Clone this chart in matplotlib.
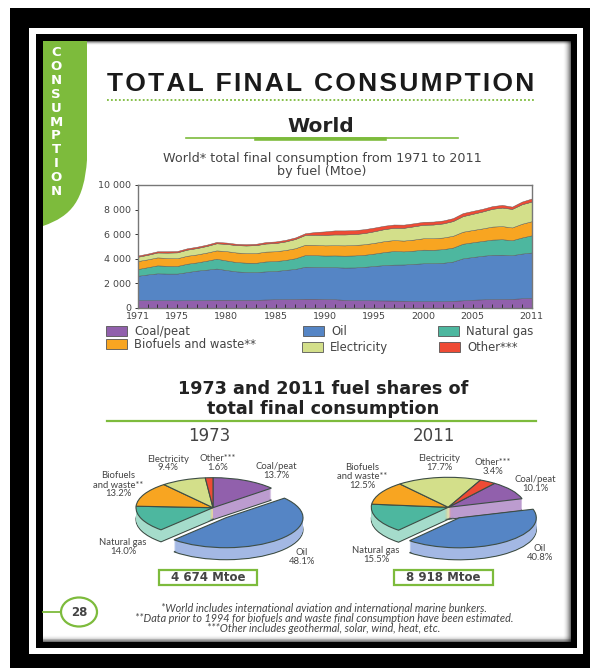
# Total final consumption page - area chart and two fake 3d pies
import numpy as np
import matplotlib
matplotlib.use('Agg')
import matplotlib.pyplot as plt
from matplotlib.patches import Rectangle, PathPatch, Ellipse
from matplotlib.path import Path

W, H = 590, 668

# area chart data (Mtoe)
years = list(range(1971, 2012))
coal = [620, 620, 620, 610, 600, 610, 620, 630, 650, 650, 640, 640, 640, 670, 690, 700, 710, 730, 730, 710,
        690, 640, 610, 610, 600, 590, 580, 570, 540, 530, 530, 530, 560, 600, 650, 680, 700, 710, 720, 770, 800]
oil = [1980, 2090, 2180, 2170, 2180, 2290, 2400, 2470, 2540, 2420, 2320, 2270, 2260, 2290, 2300, 2380, 2450, 2610, 2590, 2600,
       2610, 2630, 2670, 2720, 2800, 2880, 2930, 2950, 3030, 3090, 3100, 3130, 3200, 3420, 3480, 3550, 3610, 3610, 3560, 3640, 3700]
gas = [550, 590, 650, 630, 620, 680, 670, 730, 800, 780, 760, 760, 760, 810, 810, 810, 870, 950, 960, 940,
       960, 970, 980, 980, 1010, 1060, 1110, 1070, 1080, 1110, 1090, 1110, 1140, 1190, 1200, 1210, 1240, 1260, 1220, 1310, 1400]
biofuels = [650, 640, 650, 640, 630, 650, 650, 660, 680, 760, 780, 780, 790, 800, 800, 810, 820, 840, 840, 830,
            830, 840, 850, 860, 870, 890, 890, 880, 900, 930, 940, 950, 960, 980, 1000, 1020, 1060, 1070, 1040, 1120, 1150]
electricity = [350, 370, 400, 440, 480, 500, 520, 540, 580, 590, 600, 620, 650, 660, 670, 700, 750, 800, 830, 860,
               880, 890, 890, 910, 950, 980, 1000, 1040, 1080, 1100, 1120, 1150, 1200, 1270, 1320, 1380, 1450, 1510, 1510, 1590, 1600]
other = [100, 100, 100, 110, 110, 110, 110, 110, 110, 110, 110, 110, 110, 120, 130, 130, 130, 140, 220, 280,
         330, 330, 320, 320, 300, 280, 270, 260, 250, 240, 240, 240, 240, 250, 240, 220, 220, 220, 190, 220, 250]
area_colors = ['#9160AC', '#5585C5', '#4DB79F', '#F8A521', '#D3DF8A', '#EE4B35']
area_labels = ['Coal/peat', 'Oil', 'Natural gas', 'Biofuels and waste**', 'Electricity', 'Other***']
x_ticks = [1971, 1975, 1980, 1985, 1990, 1995, 2000, 2005, 2011]
y_ticks = [0, 2000, 4000, 6000, 8000, 10000]
y_labels = ['0', '2 000', '4 000', '6 000', '8 000', '10 000']

# pie data
pie_labels = ['Coal/peat', 'Oil', 'Natural gas', 'Biofuels\nand waste**', 'Electricity', 'Other***']
shares_1973 = [13.7, 48.1, 14.0, 13.2, 9.4, 1.6]
shares_2011 = [10.1, 40.8, 15.5, 12.5, 17.7, 3.4]
side_colors = ['#BC9CCF', '#A3B8E4', '#A5DCCB', '#F9C878', '#E3EBB5', '#F49A8C']

GREEN = '#7DBB3C'
DARK = '#222222'
GREY = '#444444'
BODY = 'Lato'


def px_axes(x0, y0, x1, y1):
    # axes from pixel box, y counted from the top like in the image
    return fig.add_axes([x0 / W, 1 - y1 / H, (x1 - x0) / W, (y1 - y0) / H])


def draw_pie(cx, cy, shares, start, oil_dx, oil_dy):
    rx, ry, depth = 77, 30, 12
    hw, hh = 125, 75
    ax = px_axes(cx - hw, cy - hh, cx + hw, cy + hh)
    ax.patch.set_alpha(0)
    total_layers = list(range(depth, -1, -1))
    # everything but oil first, oil goes on top afterwards
    for part in ['rest', 'oil']:
        for d in total_layers:
            is_top = d == 0
            cols = area_colors if is_top else side_colors
            wedges, _ = ax.pie(shares, colors=cols, startangle=90 - start, counterclock=False,
                               center=(0, -d / ry), radius=1, frame=True,
                               wedgeprops=dict(linewidth=0.8 if is_top or d == depth else 0,
                                               edgecolor='#3d4d45'))
            for i, w in enumerate(wedges):
                if i == 1:
                    w.set_center((oil_dx / rx, -(d + oil_dy) / ry))
                    w.set_visible(part == 'oil')
                else:
                    w.set_visible(part == 'rest')
    ax.set_aspect('auto')
    ax.set_xlim(-hw / rx, hw / rx)
    ax.set_ylim(-hh / ry, hh / ry)
    ax.axis('off')


fig = plt.figure(figsize=(W / 100, H / 100), dpi=100, facecolor='white')
bg = fig.add_axes([0, 0, 1, 1])
bg.set_xlim(0, W)
bg.set_ylim(H, 0)
bg.axis('off')

# frames around the page
bg.add_patch(Rectangle((10, 8), W - 10, H - 8, fc='black', ec='none'))
bg.add_patch(Rectangle((29, 28), 554, 626, fc='white', ec='none'))
bg.add_patch(Rectangle((36, 34), 541, 614, fc='black', ec='none'))
bg.add_patch(Rectangle((43, 41), 528, 601, fc='white', ec='none'))
# soft shadow inside the page edge, right, bottom and a bit on top
for k in range(8):
    a = 0.55 * (1 - k / 8) ** 2
    bg.add_patch(Rectangle((570 - k, 41), 1, 601, fc='black', ec='none', alpha=a))
    bg.add_patch(Rectangle((43, 641 - k * 0.8), 528, 0.8, fc='black', ec='none', alpha=a))
    bg.add_patch(Rectangle((43, 41 + k * 0.5), 528, 0.5, fc='black', ec='none', alpha=a))

# green tab on the left
verts = [(43, 41), (87, 41), (87, 160), (84, 200), (72, 216), (43, 226), (43, 41)]
codes = [Path.MOVETO, Path.LINETO, Path.LINETO, Path.CURVE4, Path.CURVE4, Path.CURVE4, Path.CLOSEPOLY]
bg.add_patch(PathPatch(Path(verts, codes), fc=GREEN, ec='none'))
bg.text(56, 122, '\n'.join('CONSUMPTION'), color='white', fontsize=9.5, fontweight='bold', family='DejaVu Sans',
        ha='center', va='center', linespacing=1.09)

# headings
bg.text(321, 84, '\u200a'.join('TOTAL FINAL CONSUMPTION'), fontsize=19, fontweight='bold',
        family=['Liberation Sans', 'DejaVu Sans'], color='#1a1a1a', ha='center', va='center')
bg.plot([107, 535], [100, 100], color=GREEN, lw=1.3, ls=(0, (1, 1.2)))
bg.text(321, 126, 'World', fontsize=14.5, fontweight='bold', family='DejaVu Sans', color=DARK, ha='center', va='center')
bg.plot([186, 458], [138, 138], color=GREEN, lw=1.2)
bg.plot([256, 385], [139, 139], color=GREEN, lw=2.6)
bg.text(322, 165, 'World* total final consumption from 1971 to 2011\nby fuel (Mtoe)', fontsize=9.2, family='DejaVu Sans',
        color=GREY, ha='center', va='center', linespacing=1.05)

# area chart
ax = px_axes(137.7, 185, 531.7, 307.7)
stacks = ax.stackplot(years, coal, oil, gas, biofuels, electricity, other, colors=area_colors, lw=0.3, edgecolor='#555555')
ax.set_xlim(1971, 2011)
ax.set_ylim(0, 10000)
ax.set_xticks(x_ticks)
ax.set_xticklabels([str(y) for y in x_ticks], fontsize=6.8, color=GREY, family='DejaVu Sans')
ax.set_xticks(years, minor=True)
ax.set_yticks(y_ticks)
ax.set_yticklabels(y_labels, fontsize=6.8, color=GREY, family='DejaVu Sans')
ax.tick_params(axis='x', which='both', direction='in', length=3, width=0.7, color='#333333', pad=3)
ax.tick_params(axis='y', direction='out', length=2.5, width=0.7, color='#333333', pad=2)
for s in ax.spines.values():
    s.set_color('#777777')
    s.set_linewidth(1.0)

# legend boxes by hand, they are not on a regular grid
legend_pos = [(106, 331), (303, 331), (438, 331), (105.5, 344), (302, 347), (439, 347)]
for i in range(6):
    lx, ly = legend_pos[i]
    bg.add_patch(Rectangle((lx, ly - 5), 21, 10, fc=area_colors[i], ec='#555555', lw=0.6))
    bg.text(lx + 28, ly + 0.5, area_labels[i], fontsize=8.4, family='DejaVu Sans', color=GREY, va='center')

# pies section
bg.text(323, 399, '1973 and 2011 fuel shares of\ntotal final consumption', fontsize=12.7, fontweight='bold', family='DejaVu Sans',
        color=DARK, ha='center', va='center', linespacing=1.15)
bg.plot([107, 536], [421, 421], color=GREEN, lw=1.6)
bg.text(209, 436, '1973', fontsize=12, family='DejaVu Sans', color=GREY, ha='center', va='center')
bg.text(434, 436, '2011', fontsize=12, family='DejaVu Sans', color=GREY, ha='center', va='center')

draw_pie(213, 507.7, shares_1973, 0, 13, 10)
draw_pie(448.3, 507.3, shares_2011, 37, 11, 10.5)

# pie labels on a top axes so the pies can't cover them
top = fig.add_axes([0, 0, 1, 1])
top.set_xlim(0, W)
top.set_ylim(H, 0)
top.axis('off')
pos_1973 = [(276, 471), (302, 557), (123, 547), (118, 485), (168, 463.5), (218, 463)]
pos_2011 = [(535, 484), (540, 553), (376, 555), (362, 476.5), (439, 463), (493, 467)]
for shares, pos in [(shares_1973, pos_1973), (shares_2011, pos_2011)]:
    for name, val, (tx, ty) in zip(pie_labels, shares, pos):
        top.text(tx, ty, f'{name}\n{val:.1f}%', fontsize=6.8, family=BODY, color=GREY, ha='center', va='center', linespacing=1.0)

# totals
for x0, x1, s in [(159, 257, '4 674 Mtoe'), (394, 493, '8 918 Mtoe')]:
    top.add_patch(Rectangle((x0, 570), x1 - x0, 15, fc='white', ec=GREEN, lw=1.6))
    top.text((x0 + x1) / 2, 577.5, s, fontsize=8.5, fontweight='bold', family='DejaVu Sans', color=GREY, ha='center', va='center')

# page number
top.plot([43, 61], [612, 612], color=GREEN, lw=1.3)
top.add_patch(Ellipse((79, 612), 36, 29, fc='white', ec=GREEN, lw=1.6))
top.text(79, 612, '28', fontsize=8.5, fontweight='bold', family='DejaVu Sans', color=GREY, ha='center', va='center')

# footnotes
notes = ['*World includes international aviation and international marine bunkers.',
         '**Data prior to 1994 for biofuels and waste final consumption have been estimated.',
         '***Other includes geothermal, solar, wind, heat, etc.']
for i, n in enumerate(notes):
    top.text(324, 608 + i * 10.5, n, fontsize=7.8, style='italic', family=BODY, color=GREY, ha='center', va='center')

fig.savefig('out.png', dpi=100)
